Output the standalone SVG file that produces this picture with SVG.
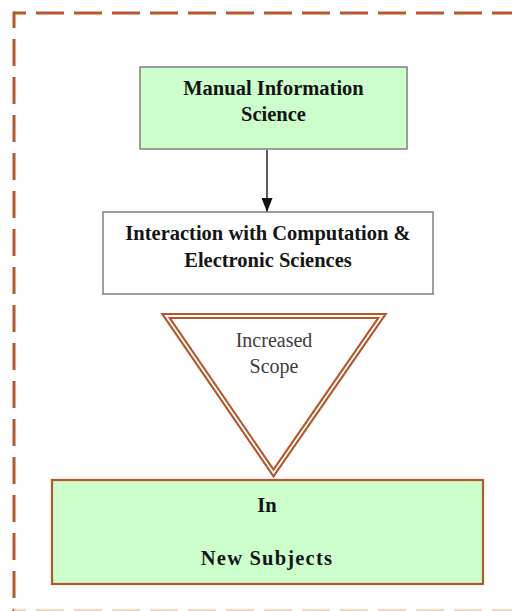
<svg xmlns="http://www.w3.org/2000/svg" width="512" height="611" viewBox="0 0 512 611">
<defs>
<style>
.frame{fill:none;stroke:#b5572b;stroke-width:3}
.box{stroke:#7f7f7f;stroke-width:1.5}
.b{font-family:"Liberation Serif","Times New Roman",serif;font-weight:bold;font-size:20.5px;fill:#151515;text-anchor:middle}
.r{font-family:"Liberation Serif","Times New Roman",serif;font-size:20px;fill:#3c3c3c;text-anchor:middle}
</style>
<marker id="ah" markerWidth="14" markerHeight="11" refX="14" refY="5.5" orient="auto" markerUnits="userSpaceOnUse" viewBox="0 0 14 11">
<path d="M0,0 L14,5.5 L0,11 Z" fill="#111"/>
</marker>
</defs>
<g id="frame">
<line class="frame" x1="14" y1="13" x2="512" y2="13" stroke-dasharray="28 10" stroke-dashoffset="16"/>
<line class="frame" x1="14" y1="11.5" x2="14" y2="611" stroke-dasharray="27 11" stroke-dashoffset="10.5"/>
<line x1="14" y1="610" x2="512" y2="610" stroke="#efd9cd" stroke-width="2" stroke-dasharray="28 10" stroke-dashoffset="16"/>
</g>
<g id="connectors">
<line x1="267" y1="150" x2="267" y2="212" stroke="#333" stroke-width="1.6" marker-end="url(#ah)"/>
</g>
<g id="manual">
<rect class="box" x="140" y="67" width="267" height="82" fill="#ccffcc"/>
<text class="b" x="273.5" y="95">Manual Information</text>
<text class="b" x="273.5" y="121">Science</text>
</g>
<g id="interaction">
<rect class="box" x="103" y="212" width="330" height="82" fill="#ffffff"/>
<text class="b" x="268" y="240">Interaction with Computation &amp;</text>
<text class="b" x="268" y="267">Electronic Sciences</text>
</g>
<g id="scope">
<polygon points="166,316 382,316 273.5,473" fill="#fff" stroke="#b5572b" stroke-width="6" stroke-linejoin="miter"/>
<polygon points="166,316 382,316 273.5,473" fill="none" stroke="#fff" stroke-width="1.8" stroke-linejoin="miter"/>
<text class="r" x="274" y="347">Increased</text>
<text class="r" x="274" y="373">Scope</text>
</g>
<g id="subjects">
<rect x="52" y="480" width="431" height="104" fill="#ccffcc" stroke="#b5572b" stroke-width="2.2"/>
<text class="b" x="267" y="512">In</text>
<text class="b" x="267" y="565" letter-spacing="1.2">New Subjects</text>
</g>
</svg>
